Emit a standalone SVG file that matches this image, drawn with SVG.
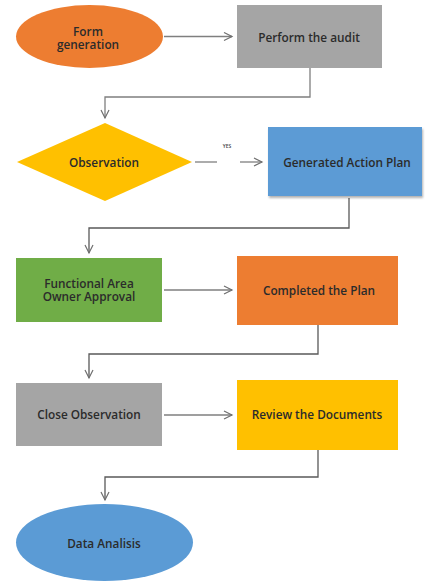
<svg xmlns="http://www.w3.org/2000/svg" width="425" height="582" viewBox="0 0 425 582">
  <style>
    .lbl { font-family: "Open Sans", "Liberation Sans", sans-serif; font-size: 11.8px; font-weight: 600; fill: #2b2b2b; text-anchor: middle; dominant-baseline: central; }
    .small { font-family: "Open Sans", "Liberation Sans", sans-serif; font-size: 5px; font-weight: 600; fill: #404040; text-anchor: middle; }
    .edge { fill: none; stroke: #7f7f7f; stroke-width: 1.3; }
    .edge-dark { fill: none; stroke: #595959; stroke-width: 1.3; }
  </style>
  <defs>
    <marker id="arrow" markerWidth="12" markerHeight="12" refX="9" refY="5" orient="auto" markerUnits="userSpaceOnUse">
      <path d="M1,1 L9,5 L1,9" fill="none" stroke="#6f6f6f" stroke-width="1.2"/>
    </marker>
    <filter id="shadow" x="-10%" y="-10%" width="125%" height="130%">
      <feDropShadow dx="1" dy="2" stdDeviation="1.2" flood-color="#000" flood-opacity="0.3"/>
    </filter>
  </defs>

  <rect width="425" height="582" fill="#ffffff"/>

  <!-- connectors -->
  <g id="connectors">
    <path class="edge" d="M164,36.5 H232" marker-end="url(#arrow)"/>
    <path class="edge" d="M310,68 V97 H105 V118" marker-end="url(#arrow)"/>
    <path class="edge" d="M195,162 H217"/>
    <path class="edge" d="M240,162 H262" marker-end="url(#arrow)"/>
    <text class="small" x="227" y="148">YES</text>
    <path class="edge-dark" d="M349,198 V228 H89 V253" marker-end="url(#arrow)"/>
    <path class="edge" d="M164,290 H232" marker-end="url(#arrow)"/>
    <path class="edge-dark" d="M318,325 V354 H89 V378" marker-end="url(#arrow)"/>
    <path class="edge" d="M164,415 H232" marker-end="url(#arrow)"/>
    <path class="edge-dark" d="M318,450 V477 H105 V500" marker-end="url(#arrow)"/>
  </g>

  <!-- nodes -->
  <g id="form-generation">
    <ellipse cx="89.5" cy="36.5" rx="73.5" ry="31.5" fill="#ED7D31"/>
    <text class="lbl" x="88" y="30.5">Form<tspan x="88" dy="13">generation</tspan></text>
  </g>

  <g id="perform-audit">
    <rect x="237" y="5" width="145" height="63" fill="#A5A5A5"/>
    <text class="lbl" x="309" y="37">Perform the audit</text>
  </g>

  <g id="observation">
    <polygon points="17,162 105,123 192,162 105,201" fill="#FFC000"/>
    <text class="lbl" x="104" y="162">Observation</text>
  </g>

  <g id="generated-action-plan">
    <rect x="268" y="127" width="154" height="69" fill="#5B9BD5" filter="url(#shadow)"/>
    <text class="lbl" x="347" y="162">Generated Action Plan</text>
  </g>

  <g id="owner-approval">
    <rect x="16" y="258" width="146" height="64" fill="#70AD47"/>
    <text class="lbl" x="89" y="283">Functional Area<tspan x="89" dy="13">Owner Approval</tspan></text>
  </g>

  <g id="completed-plan">
    <rect x="237" y="256" width="161" height="69" fill="#ED7D31"/>
    <text class="lbl" x="319" y="290">Completed the Plan</text>
  </g>

  <g id="close-observation">
    <rect x="16" y="383" width="146" height="63" fill="#A5A5A5"/>
    <text class="lbl" x="89" y="414">Close Observation</text>
  </g>

  <g id="review-documents">
    <rect x="237" y="380" width="161" height="70" fill="#FFC000"/>
    <text class="lbl" x="317" y="414">Review the Documents</text>
  </g>

  <g id="data-analisis">
    <ellipse cx="104.5" cy="542.5" rx="88.5" ry="38.5" fill="#5B9BD5"/>
    <text class="lbl" x="104" y="543">Data Analisis</text>
  </g>
</svg>
